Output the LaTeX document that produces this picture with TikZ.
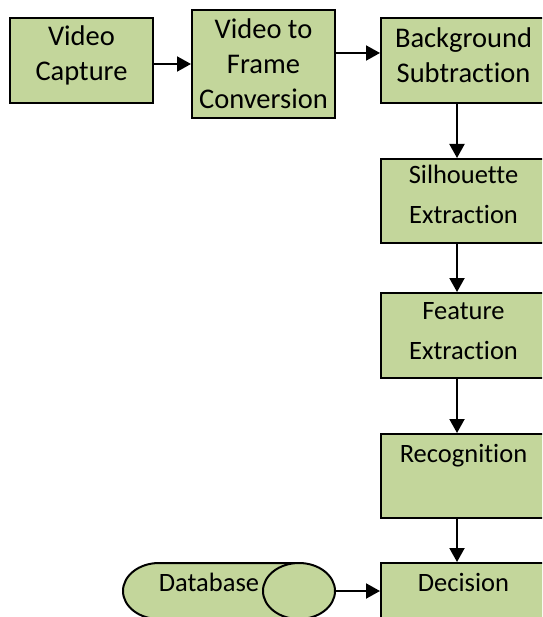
\documentclass[tikz,border=0pt]{standalone}
\usepackage{fontspec}
\setmainfont{Carlito}[Ligatures=NoCommon]
\usepackage{xcolor}
\usetikzlibrary{shapes.geometric,arrows.meta}
\definecolor{stagegreen}{HTML}{C3D69B}

\begin{document}
\begin{tikzpicture}[x=1pt, y=-1pt, line width=2pt,
  stage/.style={draw, fill=stagegreen, anchor=north west, align=center, inner sep=0pt,
    minimum width=165pt, minimum height=84pt, font=\fontsize{26.5}{40}\selectfont},
  toprow/.style={font=\fontsize{28.5}{35}\selectfont},
  oneline/.style={text height=28.5pt, text depth=55.5pt},
  storeend/.style={draw, fill=stagegreen, ellipse, minimum width=72pt, minimum height=56pt, inner sep=0pt},
  flow/.style={-{Triangle[length=14pt,width=15pt]}}]
\useasboundingbox (0,0) rectangle (542,617);
\clip (0,0) rectangle (542,617);

\node[stage, toprow, minimum width=143pt, minimum height=85pt, text depth=15pt] (cap) at (9,17) {Video\\Capture};
\node[stage, toprow, minimum width=143pt, minimum height=108pt] (conv) at (191,9) {Video to\\Frame\\Conversion};
\node[stage, toprow, minimum height=85pt, text depth=10pt] (bgsub) at (380,17) {Background\\Subtraction};
\node[stage, text depth=14pt] (sil) at (380,158) {Silhouette\\Extraction};
\node[stage, minimum height=85pt, text depth=10pt] (feat) at (380,292) {Feature\\Extraction};
\node[stage, oneline] (recog) at (380,433) {Recognition};
\node[stage, oneline] (dec) at (380,562) {Decision};

\draw[fill=stagegreen] (299,563) -- (159,563) arc[start angle=-90, end angle=-270, x radius=36, y radius=28] -- (299,619);
\node[storeend] (dbend) at (299,591) {};
\node[font=\fontsize{26.5}{32}\selectfont] (db) at (209,582) {Database};

\draw[flow] ([yshift=-3.5pt]cap.east) -- ([yshift=-3.5pt]cap.east -| conv.west);
\draw[flow] ([yshift=11pt]conv.east) -- ([yshift=11pt]conv.east -| bgsub.west);
\foreach \a/\b in {bgsub/sil, sil/feat, feat/recog, recog/dec}
  \draw[flow] ([xshift=-6.5pt]\a.south) -- ([xshift=-6.5pt]\b.north);
\draw[flow] (dbend.east) -- (dbend.east -| dec.west);
\end{tikzpicture}
\end{document}
